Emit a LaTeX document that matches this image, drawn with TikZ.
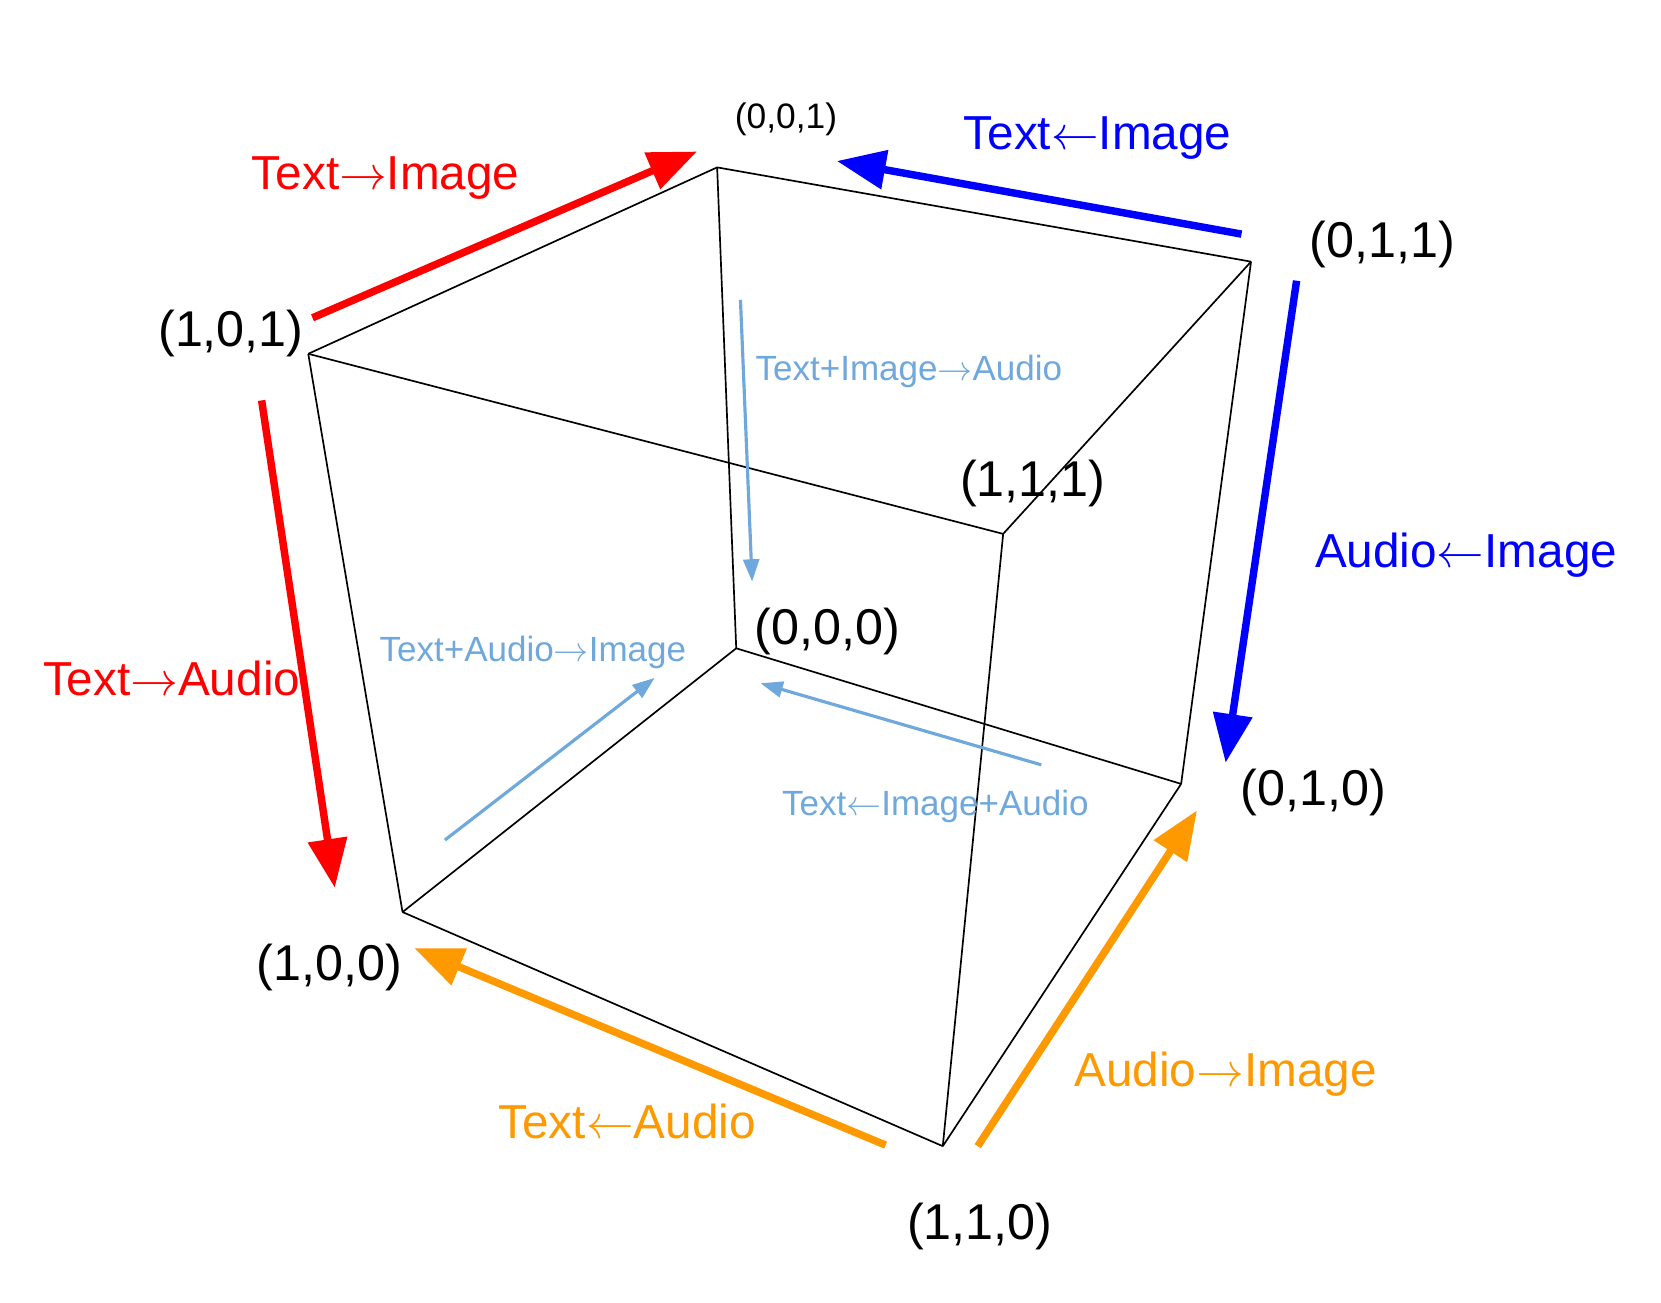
\documentclass[tikz,border=0pt]{standalone}
\usepackage{fontspec}
\usepackage{unicode-math}
\setmainfont{Liberation Sans}
\setmathfont{Latin Modern Math}
\usetikzlibrary{arrows.meta}
\definecolor{cred}{RGB}{255,0,0}
\definecolor{cblue}{RGB}{0,0,255}
\definecolor{corange}{RGB}{255,153,0}
\definecolor{clight}{RGB}{111,168,220}
\newcommand{\ra}{\ensuremath{\rightarrow}}
\newcommand{\la}{\ensuremath{\leftarrow}}
\tikzset{
  edge/.style={draw=black, line width=0.45pt},
  coordlbl/.style={font=\fontsize{13.5pt}{16pt}\selectfont, inner sep=0pt, text=black, yshift=-0.3mm},
  smallcoord/.style={font=\fontsize{9.5pt}{11pt}\selectfont, inner sep=0pt, text=black, yshift=-0.3mm},
  biglbl/.style={font=\fontsize{12.8pt}{15pt}\selectfont, inner sep=0pt, yshift=-0.3mm},
  smalllbl/.style={font=\fontsize{9.4pt}{11pt}\selectfont, inner sep=0pt, text=clight, yshift=-0.3mm},
  bigarr/.style={line width=2pt, -{Triangle[length=4.6mm,width=3.6mm]}},
  smallarr/.style={line width=0.85pt, clight, -{Triangle[length=2.1mm,width=1.5mm]}}
}
\begin{document}
\begin{tikzpicture}[x=0.01cm,y=-0.01cm]
\useasboundingbox (0,0) rectangle (1568,1230);
% cube vertices
\coordinate (v001) at (677,158);
\coordinate (v011) at (1181,247);
\coordinate (v101) at (291,334);
\coordinate (v111) at (947,504);
\coordinate (v000) at (695,612);
\coordinate (v010) at (1115,740);
\coordinate (v100) at (380,861);
\coordinate (v110) at (890,1082);
% cube edges
\draw[edge] (v001) -- (v011);
\draw[edge] (v001) -- (v101);
\draw[edge] (v101) -- (v111);
\draw[edge] (v111) -- (v011);
\draw[edge] (v001) -- (v000);
\draw[edge] (v101) -- (v100);
\draw[edge] (v111) -- (v110);
\draw[edge] (v011) -- (v010);
\draw[edge] (v000) -- (v100);
\draw[edge] (v000) -- (v010);
\draw[edge] (v100) -- (v110);
\draw[edge] (v010) -- (v110);
% coordinate labels
\node[smallcoord] (l001) at (742,110) {(0,0,1)};
\node[coordlbl] (l011) at (1305,228) {(0,1,1)};
\node[coordlbl] (l101) at (218,312) {(1,0,1)};
\node[coordlbl] (l111) at (975,453) {(1,1,1)};
\node[coordlbl] (l000) at (781,593) {(0,0,0)};
\node[coordlbl] (l010) at (1240,745) {(0,1,0)};
\node[coordlbl] (l100) at (311,910) {(1,0,0)};
\node[coordlbl] (l110) at (925,1155) {(1,1,0)};
% colored labels
\node[biglbl, text=cred] (tTI) at (364,165) {Text\ra Image};
\node[biglbl, text=cred] (tTA) at (162,637) {Text\ra Audio};
\node[biglbl, text=cblue] (tTfI) at (1036,127) {Text\la Image};
\node[biglbl, text=cblue] (tAfI) at (1384,521) {Audio\la Image};
\node[biglbl, text=corange] (tTfA) at (592,1056) {Text\la Audio};
\node[biglbl, text=corange] (tAI) at (1157,1011) {Audio\ra Image};
\node[smalllbl] (tTIA) at (858,348) {Text+Image\ra Audio};
\node[smalllbl] (tTAI) at (503,613) {Text+Audio\ra Image};
\node[smalllbl] (tTfIA) at (883,758) {Text\la Image+Audio};
% arrow end points
\coordinate (a1s) at (295,300); \coordinate (a1e) at (658,143);
\coordinate (a2s) at (247,378); \coordinate (a2e) at (316,838);
\coordinate (a3s) at (1172,221); \coordinate (a3e) at (790,152);
\coordinate (a4s) at (1224,265); \coordinate (a4e) at (1157,720);
\coordinate (a5s) at (836,1081); \coordinate (a5e) at (391,895);
\coordinate (a6s) at (923,1082); \coordinate (a6e) at (1130,765);
\coordinate (a7s) at (699,283); \coordinate (a7e) at (710,549);
\coordinate (a8s) at (420,793); \coordinate (a8e) at (618,640);
\coordinate (a9s) at (983,722); \coordinate (a9e) at (718,645);
% arrows
\draw[bigarr, cred] (a1s) -- (a1e);
\draw[bigarr, cred] (a2s) -- (a2e);
\draw[bigarr, cblue] (a3s) -- (a3e);
\draw[bigarr, cblue] (a4s) -- (a4e);
\draw[bigarr, corange] (a5s) -- (a5e);
\draw[bigarr, corange] (a6s) -- (a6e);
\draw[smallarr] (a7s) -- (a7e);
\draw[smallarr] (a8s) -- (a8e);
\draw[smallarr] (a9s) -- (a9e);
\end{tikzpicture}
\end{document}
